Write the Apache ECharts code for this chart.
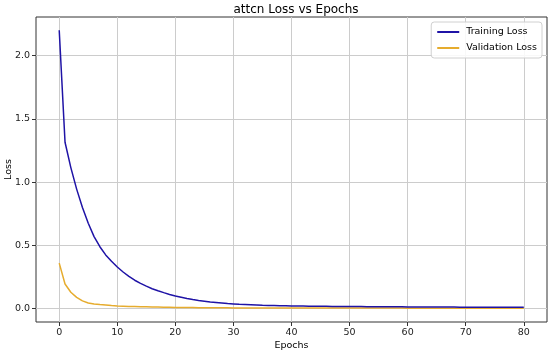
<!DOCTYPE html>
<html>
<head>
<meta charset="utf-8">
<script src="https://cdn.jsdelivr.net/npm/echarts@6/dist/echarts.min.js"></script>
<style>html,body{margin:0;padding:0;background:#fff;}#c{width:550px;height:353px;}</style>
</head>
<body>
<div id="c"></div>
<script>
const epochs = Array.from({length: 81}, (_, i) => i);
const trainingLoss = [
  2.20, 1.315, 1.115, 0.945, 0.80, 0.675, 0.57, 0.49, 0.425, 0.375,
  0.33, 0.29, 0.255, 0.225, 0.20, 0.178, 0.158, 0.142, 0.127, 0.113,
  0.100, 0.090, 0.080, 0.072, 0.065, 0.059, 0.053, 0.049, 0.045, 0.041,
  0.038, 0.035, 0.033, 0.031, 0.029, 0.027, 0.026, 0.025, 0.024, 0.023,
  0.022, 0.021, 0.021, 0.020, 0.020, 0.019, 0.019, 0.018, 0.018, 0.018,
  0.017, 0.017, 0.017, 0.016, 0.016, 0.016, 0.015, 0.015, 0.015, 0.015,
  0.014, 0.014, 0.014, 0.014, 0.013, 0.013, 0.013, 0.013, 0.013, 0.012,
  0.012, 0.012, 0.012, 0.012, 0.012, 0.012, 0.011, 0.011, 0.011, 0.011,
  0.011
];
const validationLoss = [
  0.36, 0.195, 0.13, 0.09, 0.062, 0.045, 0.038, 0.033, 0.029, 0.025,
  0.022, 0.020, 0.018, 0.017, 0.016, 0.015, 0.014, 0.013, 0.012, 0.011,
  0.010, 0.010, 0.009, 0.009, 0.008, 0.008, 0.008, 0.007, 0.007, 0.007,
  0.006, 0.006, 0.006, 0.006, 0.006, 0.006, 0.006, 0.006, 0.006, 0.006,
  0.005, 0.005, 0.005, 0.005, 0.005, 0.005, 0.005, 0.005, 0.005, 0.005,
  0.005, 0.005, 0.005, 0.005, 0.005, 0.005, 0.005, 0.005, 0.005, 0.005,
  0.004, 0.004, 0.004, 0.004, 0.004, 0.004, 0.004, 0.004, 0.004, 0.004,
  0.004, 0.004, 0.004, 0.004, 0.004, 0.004, 0.004, 0.004, 0.004, 0.004,
  0.004
];
const xTicks = [0, 10, 20, 30, 40, 50, 60, 70, 80];
const yTicks = [0, 0.5, 1.0, 1.5, 2.0];

const font = 'DejaVu Sans';
const chart = echarts.init(document.getElementById('c'), null, {renderer: 'canvas'});
chart.setOption({
  animation: false,
  backgroundColor: '#fff',
  textStyle: {fontFamily: font},
  title: {
    text: 'attcn Loss vs Epochs',
    left: 291, top: -1, textAlign: 'center',
    textStyle: {fontFamily: font, fontSize: 12, fontWeight: 'normal', color: '#000'}
  },
  legend: {
    right: 8, top: 22, orient: 'vertical',
    itemWidth: 22, itemHeight: 2, itemGap: 6,
    icon: 'rect',
    backgroundColor: 'rgba(255,255,255,0.85)',
    borderColor: '#d0d0d0', borderWidth: 1, borderRadius: 3,
    padding: [5, 5, 5, 6],
    textStyle: {fontFamily: font, fontSize: 9.5, color: '#000', padding: [0, 0, 0, 2]},
    data: ['Training Loss', 'Validation Loss']
  },
  grid: {left: 36, right: 3, top: 17, bottom: 31, containLabel: false, outerBoundsMode: 'none',
    show: true, borderColor: '#333', borderWidth: 1, backgroundColor: 'transparent'},
  xAxis: {
    type: 'value', min: -4, max: 84,
    name: 'Epochs', nameLocation: 'middle', nameGap: 19, nameMoveOverlap: false,
    nameTextStyle: {fontFamily: font, fontSize: 9.5, color: '#000'},
    axisLine: {show: false, onZero: false},
    axisTick: {show: true, length: 4, lineStyle: {color: '#333'}, customValues: xTicks},
    axisLabel: {fontFamily: font, fontSize: 9.5, color: '#222', margin: 6, customValues: xTicks},
    splitLine: {show: true, lineStyle: {color: '#cccccc', width: 1}}
  },
  yAxis: {
    type: 'value', min: -0.105, max: 2.305,
    name: 'Loss', nameLocation: 'middle', nameGap: 22, nameRotate: 90, nameMoveOverlap: false,
    nameTextStyle: {fontFamily: font, fontSize: 9.5, color: '#000'},
    axisLine: {show: false, onZero: false},
    axisTick: {show: true, length: 4, lineStyle: {color: '#333'}, customValues: yTicks},
    axisLabel: {fontFamily: font, fontSize: 9.5, color: '#222', margin: 6, customValues: yTicks,
      formatter: v => v.toFixed(1)},
    splitLine: {show: true, lineStyle: {color: '#cccccc', width: 1}}
  },
  series: [
    {
      name: 'Training Loss', type: 'line', showSymbol: false, symbol: 'none',
      data: epochs.map((e, i) => [e, trainingLoss[i]]),
      lineStyle: {color: '#1f13a6', width: 1.5}, itemStyle: {color: '#1f13a6'}, z: 3
    },
    {
      name: 'Validation Loss', type: 'line', showSymbol: false, symbol: 'none',
      data: epochs.map((e, i) => [e, validationLoss[i]]),
      lineStyle: {color: '#e6ac2e', width: 1.5}, itemStyle: {color: '#e6ac2e'}, z: 2
    }
  ]
});
</script>
</body>
</html>
